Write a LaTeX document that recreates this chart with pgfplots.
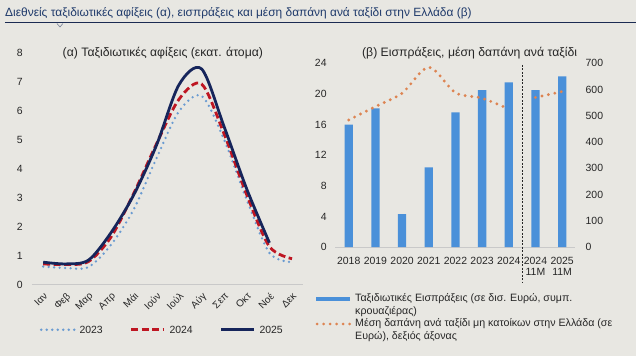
\documentclass[border=0pt]{standalone}
\usepackage{fontspec}
\setmainfont{Liberation Sans}
\usepackage{pgfplots}
\pgfplotsset{compat=1.18}
\definecolor{bg}{HTML}{E8E7E2}
\definecolor{titleblue}{HTML}{1F3A6B}
\definecolor{rulenavy}{HTML}{1B2B52}
\definecolor{cA}{HTML}{6A9BD1}
\definecolor{cB}{HTML}{BE1622}
\definecolor{cC}{HTML}{16255B}
\definecolor{barblue}{HTML}{4A90D9}
\definecolor{dotorange}{HTML}{DD8452}
\definecolor{axisgray}{HTML}{C9C9C9}
\definecolor{txt}{HTML}{262626}
\pgfplotsset{
  common/.style={
    scale only axis, clip=false,
    major tick length=0pt,
    /pgf/number format/assume math mode=true,
    tick label style={text=txt},
    every axis title shift=0pt,
  }
}
\begin{document}
\begin{tikzpicture}
\fill[bg] (0bp,0bp) rectangle (636bp,-356bp);
\node[anchor=base west, inner sep=0pt, text=titleblue, font=\fontsize{12}{14}\selectfont] at (5bp,-17bp) {Διεθνείς ταξιδιωτικές αφίξεις (α), εισπράξεις και μέση δαπάνη ανά ταξίδι στην Ελλάδα (β)};
\draw[rulenavy, line width=1bp] (5bp,-23bp) -- (636bp,-23bp);
\draw[rulenavy!60, line width=0.6bp] (57bp,-23.5bp) -- (60bp,-27bp) -- (63bp,-23.5bp);

% ---------- left chart ----------
\begin{axis}[common,
  at={(31.9bp,-285bp)}, anchor=south west,
  width=271.7bp, height=232bp,
  xmin=0.5, xmax=12.5, ymin=0, ymax=8,
  axis x line*=bottom, axis y line*=left,
  x axis line style={draw=axisgray, line width=0.8bp, -},
  y axis line style={draw=none},
  xtick={1,...,12},
  xticklabels={Ιαν,Φεβ,Μαρ,Απρ,Μάι,Ιούν,Ιούλ,Αύγ,Σεπ,Οκτ,Νοέ,Δεκ},
  xticklabel style={rotate=45, anchor=north east, inner sep=0pt, font=\fontsize{10}{12}\selectfont},
  xticklabel shift=7bp,
  ytick={0,1,...,8},
  yticklabel style={anchor=east, inner sep=0pt, font=\fontsize{10.5}{12}\selectfont},
  yticklabel shift=9bp,
  title={(α) Ταξιδιωτικές αφίξεις (εκατ. άτομα)},
  title style={at={(0.4825,1)}, anchor=center, inner sep=0pt, font=\fontsize{12.3}{14}\selectfont, text=txt},
  legend style={at={(0.0298,-0.194)}, anchor=west, draw=none, fill=none,
    inner sep=0pt, outer sep=0pt, legend columns=3,
    nodes={inner sep=0pt, font=\fontsize{10.5}{12}\selectfont, text=txt, text height=7.5bp, text depth=0pt},
    /tikz/every odd column/.append style={column sep=4bp},
    /tikz/every even column/.append style={column sep=27bp}},
  legend cell align=left,
  legend image code/.code={\draw[#1] (0bp,0bp) -- (33bp,0bp);},
]
\addplot[cA, line width=2.6bp, line cap=round, dash pattern=on 0bp off 5.5bp, smooth] coordinates {
 (1,0.63) (2,0.58) (3,0.61) (4,1.38) (5,2.6) (6,4.35) (7,5.98) (8,6.52) (9,5.0) (10,2.93) (11,1.1) (12,0.78)};
\addlegendentry{2023}
\addplot[cB, line width=2.8bp, dash pattern=on 7bp off 3.5bp, smooth] coordinates {
 (1,0.72) (2,0.7) (3,0.8) (4,1.65) (5,3.15) (6,4.85) (7,6.4) (8,6.93) (9,5.2) (10,3.1) (11,1.32) (12,0.9)};
\addlegendentry{2024}
\addplot[cC, line width=2.8bp, smooth] coordinates {
 (1,0.78) (2,0.72) (3,0.85) (4,1.8) (5,3.1) (6,4.8) (7,6.9) (8,7.45) (9,5.45) (10,3.3) (11,1.45)};
\addlegendentry{2025}
\end{axis}

% ---------- right chart: bars ----------
\begin{axis}[common,
  at={(335.65bp,-247.3bp)}, anchor=south west,
  width=240.3bp, height=184bp,
  xmin=-0.5, xmax=8.5, ymin=0, ymax=24,
  axis x line*=bottom, axis y line*=left,
  x axis line style={draw=axisgray, line width=0.8bp, -},
  y axis line style={draw=none},
  xtick={0,...,8},
  xticklabels={2018,2019,2020,2021,2022,2023,2024,{2024\\11M},{2025\\11M}},
  xticklabel style={align=center, anchor=north, inner sep=0pt, font=\fontsize{10.5}{11.7}\selectfont},
  xticklabel shift=9.4bp,
  ytick={0,4,...,24},
  yticklabel style={anchor=east, inner sep=0pt, font=\fontsize{10.5}{12}\selectfont},
  yticklabel shift=8.6bp,
  title={(β) Εισπράξεις, μέση δαπάνη ανά ταξίδι},
  title style={at={(0.559,1.0576)}, anchor=center, inner sep=0pt, font=\fontsize{12.3}{14}\selectfont, text=txt},
  legend style={at={(-0.0818,-0.2538)}, anchor=north west, draw=none, fill=none,
    inner sep=0pt, outer sep=0pt, row sep=2bp,
    nodes={inner sep=0pt, font=\fontsize{10.7}{12}\selectfont, text=txt, text height=8bp, text depth=2.5bp},
    /tikz/every odd column/.append style={column sep=4bp}},
  legend cell align=left,
]
\addplot[ybar, bar width=8.3bp, bar shift=0pt, fill=barblue, draw=none,
  legend image code/.code={\fill[barblue] (0bp,-2bp) rectangle (34bp,2bp);}] coordinates {
 (0,16.0) (1,18.1) (2,4.3) (3,10.4) (4,17.6) (5,20.5) (6,21.5) (7,20.5) (8,22.3)};
\addlegendentry{Ταξιδιωτικές Εισπράξεις (σε δισ. Ευρώ, συμπ.}
\addlegendimage{empty legend}
\addlegendentry{κρουαζιέρας)}
\addlegendimage{legend image code/.code={\draw[dotorange, line width=3bp, line cap=round, dash pattern=on 0bp off 6.5bp] (1.5bp,0bp) -- (34bp,0bp);}}
\addlegendentry{Μέση δαπάνη ανά ταξίδι μη κατοίκων στην Ελλάδα (σε}
\addlegendimage{empty legend}
\addlegendentry{Ευρώ), δεξιός άξονας}
\draw[black!85, line width=0.9bp, dash pattern=on 2bp off 1.5bp] (axis cs:6.5,23.8) -- (axis cs:6.5,-4.55);
\end{axis}

% ---------- right chart: average spending ----------
\begin{axis}[common,
  at={(335.65bp,-247.3bp)}, anchor=south west,
  width=240.3bp, height=184bp,
  xmin=-0.5, xmax=8.5, ymin=0, ymax=700,
  axis x line=none, axis y line*=right,
  y axis line style={draw=none},
  ytick={0,100,...,700},
  yticklabel style={anchor=west, inner sep=0pt, font=\fontsize{10.5}{12}\selectfont},
  yticklabel shift=10bp,
]
\addplot[dotorange, line width=3.2bp, line cap=round, dash pattern=on 0bp off 6.6bp, smooth] coordinates {
 (0,484) (1,535) (2,586) (3,685) (4,588) (5,567) (6,526)};
\addplot[dotorange, line width=3.2bp, line cap=round, dash pattern=on 0bp off 6.6bp, smooth] coordinates {
 (7,570) (8,592)};
\end{axis}
\end{tikzpicture}
\end{document}
